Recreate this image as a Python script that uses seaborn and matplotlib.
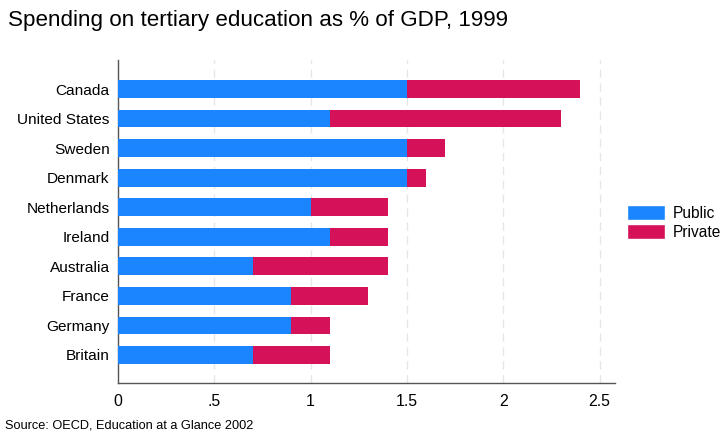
import pandas as pd
import matplotlib.pyplot as plt
import seaborn as sns
from matplotlib.patches import Patch

# Data
countries = ["Canada", "United States", "Sweden", "Denmark", "Netherlands",
             "Ireland", "Australia", "France", "Germany", "Britain"]
public = [1.5, 1.1, 1.5, 1.5, 1.0, 1.1, 0.7, 0.9, 0.9, 0.7]
private = [0.9, 1.2, 0.2, 0.1, 0.4, 0.3, 0.7, 0.4, 0.2, 0.4]

df = pd.DataFrame({"country": countries, "public": public, "private": private})
df["total"] = df["public"] + df["private"]

BLUE = "#1a85ff"
RED = "#d41159"

sns.set_style("white")
plt.rcParams["font.family"] = ["Liberation Sans", "DejaVu Sans"]
plt.rcParams["text.color"] = "black"
plt.rcParams["xtick.color"] = "black"
plt.rcParams["ytick.color"] = "black"

fig = plt.figure(figsize=(7.26, 4.32), dpi=100)
ax = fig.add_axes([0.1625, 0.1134, 0.6845, 0.7476])

# stacked bars: total in private colour, public drawn on top
sns.barplot(data=df, x="total", y="country", color=RED, width=0.6,
            saturation=1, linewidth=0, ax=ax, zorder=3)
sns.barplot(data=df, x="public", y="country", color=BLUE, width=0.6,
            saturation=1, linewidth=0, ax=ax, zorder=4)

ax.set_xlim(0, 2.58)
ax.set_ylim(9.95, -0.98)
ax.set_xticks([0, 0.5, 1, 1.5, 2, 2.5])
ax.set_xticklabels(["0", ".5", "1", "1.5", "2", "2.5"])
ax.set_xlabel("")
ax.set_ylabel("")

for x in [0.5, 1, 1.5, 2, 2.5]:
    ax.axvline(x, color="#e6e6e6", lw=1, ls=(0, (6, 4)), zorder=1)

for side in ["top", "right"]:
    ax.spines[side].set_visible(False)
for side in ["left", "bottom"]:
    ax.spines[side].set_color("#555555")
    ax.spines[side].set_linewidth(1)

ax.tick_params(axis="x", length=5, width=1, color="#555555", labelsize=11.4, pad=3)
ax.tick_params(axis="y", length=0, labelsize=11.1, pad=6)

handles = [Patch(facecolor=BLUE, label="Public"),
           Patch(facecolor=RED, label="Private")]
fig.legend(handles=handles, loc="center left", bbox_to_anchor=(0.864, 0.485),
           frameon=False, fontsize=11.2, handlelength=2.4, handleheight=1.1,
           handletextpad=0.5, labelspacing=0.2, borderpad=0, borderaxespad=0)

fig.text(0.011, 0.952, "Spending on tertiary education as % of GDP, 1999",
         fontsize=16.1, va="center", ha="left")
fig.text(0.007, 0.016, "Source: OECD, Education at a Glance 2002",
         fontsize=9.2, va="center", ha="left")

fig.savefig("out.png", dpi=100)
